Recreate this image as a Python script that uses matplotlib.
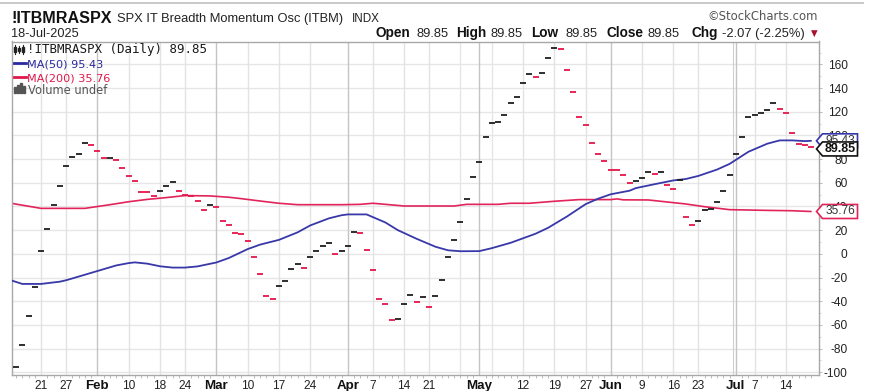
import matplotlib
matplotlib.use('Agg')
import matplotlib.pyplot as plt
import numpy as np
import pandas as pd
from matplotlib.patches import Polygon, Rectangle
from matplotlib.lines import Line2D
from matplotlib.transforms import IdentityTransform

# ---------------- data ----------------
holidays = ['2025-01-20', '2025-02-17', '2025-04-18', '2025-05-26', '2025-06-19', '2025-07-04']
sessions = pd.bdate_range('2025-01-14', '2025-07-18', freq='C', holidays=holidays)

closes = [
    -95.2, -76.8, -52.8, -28.2, 2.3, 21.2, 41.5, 57.3, 74.3, 81.9,
    83.9, 93.5, 92.1, 87.0, 80.8, 81.0, 79.4, 72.6, 65.8, 61.6,
    52.6, 52.1, 49.2, 53.1, 57.3, 60.7, 53.1, 49.7, 48.5, 44.6,
    37.0, 41.5, 39.3, 27.7, 24.6, 17.4, 17.1, 10.7, -2.8, -16.7,
    -35.9, -37.9, -27.4, -22.9, -12.7, -8.2, -11.6, -2.8, 2.3, 6.5,
    9.0, 0.0, 2.3, 6.5, 18.4, 18.0, 3.1, -13.3, -37.9, -42.1,
    -56.2, -54.8, -42.1, -35.0, -40.4, -36.2, -44.6, -36.0, -22.3, -2.3,
    11.9, 26.6, 46.6, 65.0, 77.4, 98.6, 110.2, 111.6, 117.5, 127.4,
    132.5, 144.4, 151.7, 149.4, 152.8, 165.3, 173.7, 172.6, 155.6, 136.7,
    115.5, 109.0, 93.2, 84.7, 78.2, 71.2, 70.6, 66.7, 59.6, 61.3,
    63.8, 68.9, 67.8, 68.9, 58.2, 55.1, 62.5, 31.1, 24.6, 27.7,
    37.3, 37.6, 43.8, 53.1, 66.9, 83.9, 98.6, 115.5, 117.5, 118.9,
    121.2, 127.7, 122.0, 118.9, 101.7, 92.4, 91.92, 89.85,
]

# moving averages read at sample sessions (session number from 2025-01-14)
ma50_session = [-1, 1, 4, 7, 8, 10, 13, 16, 18, 19, 21, 23, 25, 27, 29, 32, 34, 36, 37, 39,
                42, 45, 47, 50, 52, 53, 56, 59, 61, 64, 67, 69, 71, 74, 76, 79, 83, 85, 88, 91,
                93, 95, 98, 99, 102, 105, 107, 109, 112, 114, 117, 120, 122, 124, 126, 127]
ma50_value = [-22.0, -25.4, -25.4, -23.5, -22.3, -19.2, -14.5, -9.8, -7.8, -7.2, -8.3, -10.5, -11.6, -11.6,
              -10.6, -7.3, -3.5, 1.5, 4.0, 7.8, 11.8, 18.2, 24.0, 30.0, 32.6, 33.3, 33.3, 26.5, 20.0,
              12.7, 6.0, 3.0, 2.2, 2.3, 4.8, 9.3, 17.0, 22.0, 31.5, 42.0, 46.6, 50.3, 53.3, 55.5,
              58.8, 62.0, 63.2, 65.8, 71.2, 76.0, 86.2, 93.0, 95.8, 95.8, 95.2, 95.43]

ma200_session = [-1, 0, 4, 11, 15, 18, 21, 24, 27, 31, 34, 36, 39, 42, 45, 52, 55, 57, 59, 62,
                 70, 72, 77, 79, 82, 86, 90, 95, 96, 97, 101, 104, 107, 110, 114, 120, 124, 127]
ma200_value = [43.0, 42.0, 38.4, 38.4, 41.5, 44.0, 46.0, 47.5, 49.2, 48.9, 47.8, 46.6, 44.6, 42.7,
               41.5, 41.5, 41.8, 42.7, 41.8, 40.4, 40.4, 41.8, 41.8, 42.7, 42.7, 44.4, 45.8, 45.8,
               46.4, 45.6, 45.5, 43.8, 42.1, 39.8, 37.3, 36.7, 36.4, 35.76]

label_dates = ['2025-01-21', '2025-01-27', '2025-02-03', '2025-02-10', '2025-02-18', '2025-02-24',
               '2025-03-03', '2025-03-10', '2025-03-17', '2025-03-24', '2025-04-01', '2025-04-07',
               '2025-04-14', '2025-04-21', '2025-05-01', '2025-05-12', '2025-05-19', '2025-05-27',
               '2025-06-02', '2025-06-09', '2025-06-16', '2025-06-23', '2025-07-01', '2025-07-07',
               '2025-07-14']
label_texts = ['21', '27', 'Feb', '10', '18', '24', 'Mar', '10', '17', '24', 'Apr', '7', '14', '21',
               'May', '12', '19', '27', 'Jun', '9', '16', '23', 'Jul', '7', '14']
extra_grid_dates = ['2025-04-28', '2025-05-05']
y_ticks = [-100, -80, -60, -40, -20, 0, 20, 40, 60, 80, 100, 120, 140, 160]

# ---------------- figure ----------------
W, H = 872, 391
fig = plt.figure(figsize=(W / 100, H / 100), dpi=100)
fig.patch.set_facecolor('white')
ax = fig.add_axes([11.5 / W, 1 - 375 / H, (819 - 11.5) / W, (375 - 41.5) / H])

x = np.arange(len(closes))
ax.set_xlim(-0.72, 128.27)
ax.set_ylim(-102.3, 179.3)

# grid
for yv in y_ticks:
    ax.axhline(yv, color='#e6e6e6', lw=1.0, zorder=0)
for d in extra_grid_dates:
    ax.axvline(sessions.get_loc(pd.Timestamp(d)), color='#e6e6e6', lw=1.0, zorder=0)
tick_pos = [sessions.get_loc(pd.Timestamp(d)) for d in label_dates]
for p, t in zip(tick_pos, label_texts):
    month = not t.isdigit()
    ax.axvline(p, color='#c4c4c4' if month else '#e3e3e3', lw=1.0, zorder=0)
ax.axvline(sessions.get_loc(pd.Timestamp('2025-07-01')) - 0.45, color='#cfcfcf', lw=0.8, zorder=0)

# MAs
ax.plot(ma200_session, ma200_value, color='#e2245a', lw=1.2, zorder=2, solid_capstyle='round')
ax.plot(ma50_session, ma50_value, color='#3838a8', lw=1.3, zorder=3, solid_capstyle='round')

# close-only dashes
cl = np.array(closes)
up = np.r_[True, cl[1:] >= cl[:-1]]
ax.plot(x[up], cl[up], ls='none', marker='_', ms=4.8, mew=1.3, color='#1e1e1e', zorder=4)
ax.plot(x[~up], cl[~up], ls='none', marker='_', ms=4.8, mew=1.3, color='#e5164b', zorder=4)

# axes styling
for s in ax.spines.values():
    s.set_color('#a8a8a8')
    s.set_linewidth(1.0)
ax.set_xticks(tick_pos)
ax.set_xticklabels(label_texts)
for lab, t in zip(ax.get_xticklabels(), label_texts):
    lab.set_family('Liberation Sans')
    if t.isdigit():
        lab.set_fontsize(8.6)
        lab.set_color('#222222')
    else:
        lab.set_fontsize(9.6)
        lab.set_fontweight('bold')
        lab.set_color('#111111')
ax.tick_params(axis='x', which='major', length=0, pad=3.5)
ax.set_xticks(x, minor=True)
ax.tick_params(axis='x', which='minor', length=2, width=0.6, color='#b0b0b0', direction='out')

ax.set_yticks(y_ticks)
ax.set_yticklabels([str(v) for v in y_ticks])
ax.yaxis.tick_right()
ax.tick_params(axis='y', which='major', length=2, width=0.6, color='#b0b0b0', direction='out', pad=18.5)
for lab in ax.get_yticklabels():
    lab.set_ha('right')
    lab.set_family('Liberation Sans')
    lab.set_fontsize(8.6)
    lab.set_color('#222222')
ax.set_yticks(np.arange(-100, 180, 10), minor=True)
ax.tick_params(axis='y', which='minor', length=1.5, width=0.5, color='#c0c0c0', direction='out')


def fx(px):
    return px / W


def fy(py):
    return 1 - py / H


# top frame line
fig.add_artist(Line2D([0, fx(863)], [fy(3), fy(3)], color='#c8c8c8', lw=1.4, transform=fig.transFigure))

# header
fig.text(fx(11), fy(23), '!ITBMRASPX', fontsize=11.6, fontweight='bold', family='Liberation Sans',
         color='#111111', va='baseline')
fig.text(fx(117), fy(22), 'SPX IT Breadth Momentum Osc (ITBM)', fontsize=9.3, family='Liberation Sans',
         color='#222222', va='baseline')
fig.text(fx(352), fy(22), 'INDX', fontsize=8.4, family='Liberation Sans', color='#222222', va='baseline')
fig.text(fx(11), fy(37), '18-Jul-2025', fontsize=9.2, family='Liberation Sans', color='#222222',
         va='baseline')
fig.text(fx(818), fy(20.5), '\u00a9StockCharts.com', fontsize=8.4, family='DejaVu Sans', color='#555555',
         va='baseline', ha='right')

pieces = [('Open', True, 375), ('89.85', False, 416), ('High', True, 456.5), ('89.85', False, 490),
          ('Low', True, 531.5), ('89.85', False, 565), ('Close', True, 606.5), ('89.85', False, 647),
          ('Chg', True, 691.5), ('-2.07 (-2.25%)', False, 721.5)]
for txt, bold, px in pieces:
    fig.text(fx(px), fy(37), txt, fontsize=9.8 if bold else 9.3,
             fontweight='bold' if bold else 'normal', family='Liberation Sans',
             color='#111111' if bold else '#222222', va='baseline')
fig.text(fx(810.5), fy(36), '\u25bc', fontsize=6.2, family='DejaVu Sans', color='#a8102c', va='baseline')

# in-chart legend
fig.text(fx(27), fy(53.5), '!ITBMRASPX (Daily) 89.85', fontsize=9.0, family='DejaVu Sans Mono',
         color='#1a1a1a', va='baseline')
# candle icon
for cxp, top, bot, bt, bb2 in [(15, 45, 54, 47, 52), (19, 46, 53, 48, 51), (23, 45, 54, 47, 52)]:
    fig.add_artist(Line2D([fx(cxp), fx(cxp)], [fy(top), fy(bot)], color='#222222', lw=0.8,
                          transform=fig.transFigure))
    fig.add_artist(Rectangle((fx(cxp - 1.2), fy(bb2)), fx(2.4), fy(bt) - fy(bb2), color='#222222',
                             transform=fig.transFigure))
fig.add_artist(Line2D([fx(14), fx(26)], [fy(63), fy(63)], color='#2a2aa0', lw=2.0, transform=fig.transFigure))
fig.text(fx(27), fy(67.5), 'MA(50) 95.43', fontsize=8.1, family='DejaVu Sans', color='#2a2aa0',
         va='baseline')
fig.add_artist(Line2D([fx(14), fx(26)], [fy(77), fy(77)], color='#e0184a', lw=2.0, transform=fig.transFigure))
fig.text(fx(27), fy(81.5), 'MA(200) 35.76', fontsize=8.1, family='DejaVu Sans', color='#e0184a',
         va='baseline')
for bx, bh in [(15, 6), (18, 8), (21, 10), (24, 7)]:
    fig.add_artist(Rectangle((fx(bx - 1), fy(93)), fx(2), fy(93 - bh) - fy(93), color='#555555',
                             transform=fig.transFigure))
fig.text(fx(28), fy(93.5), 'Volume undef', fontsize=8.3, family='DejaVu Sans', color='#555555',
         va='baseline')


# value tags on right
def tag(value, edge, text, tcolor, bold, dy=0.0):
    ydisp = ax.transData.transform((0, value))[1] - dy
    x0 = 816.5
    pts = [(x0, ydisp), (x0 + 6, ydisp + 7), (x0 + 41, ydisp + 7), (x0 + 41, ydisp - 7), (x0 + 6, ydisp - 7)]
    poly = Polygon(pts, closed=True, facecolor='white', edgecolor=edge, lw=1.2,
                   transform=IdentityTransform(), zorder=10)
    fig.add_artist(poly)
    fig.text((x0 + 24) / W, ydisp / H, text, fontsize=9.0 if bold else 8.6,
             fontweight='bold' if bold else 'normal', family='Liberation Sans', color=tcolor,
             ha='center', va='center', zorder=11)


tag(95.43, '#3535b0', '95.43', '#333333', False)
tag(89.85, '#111111', '89.85', '#111111', True, dy=1.5)
tag(35.76, '#e0245a', '35.76', '#333333', False)

fig.savefig('out.png', dpi=100, facecolor='white')
